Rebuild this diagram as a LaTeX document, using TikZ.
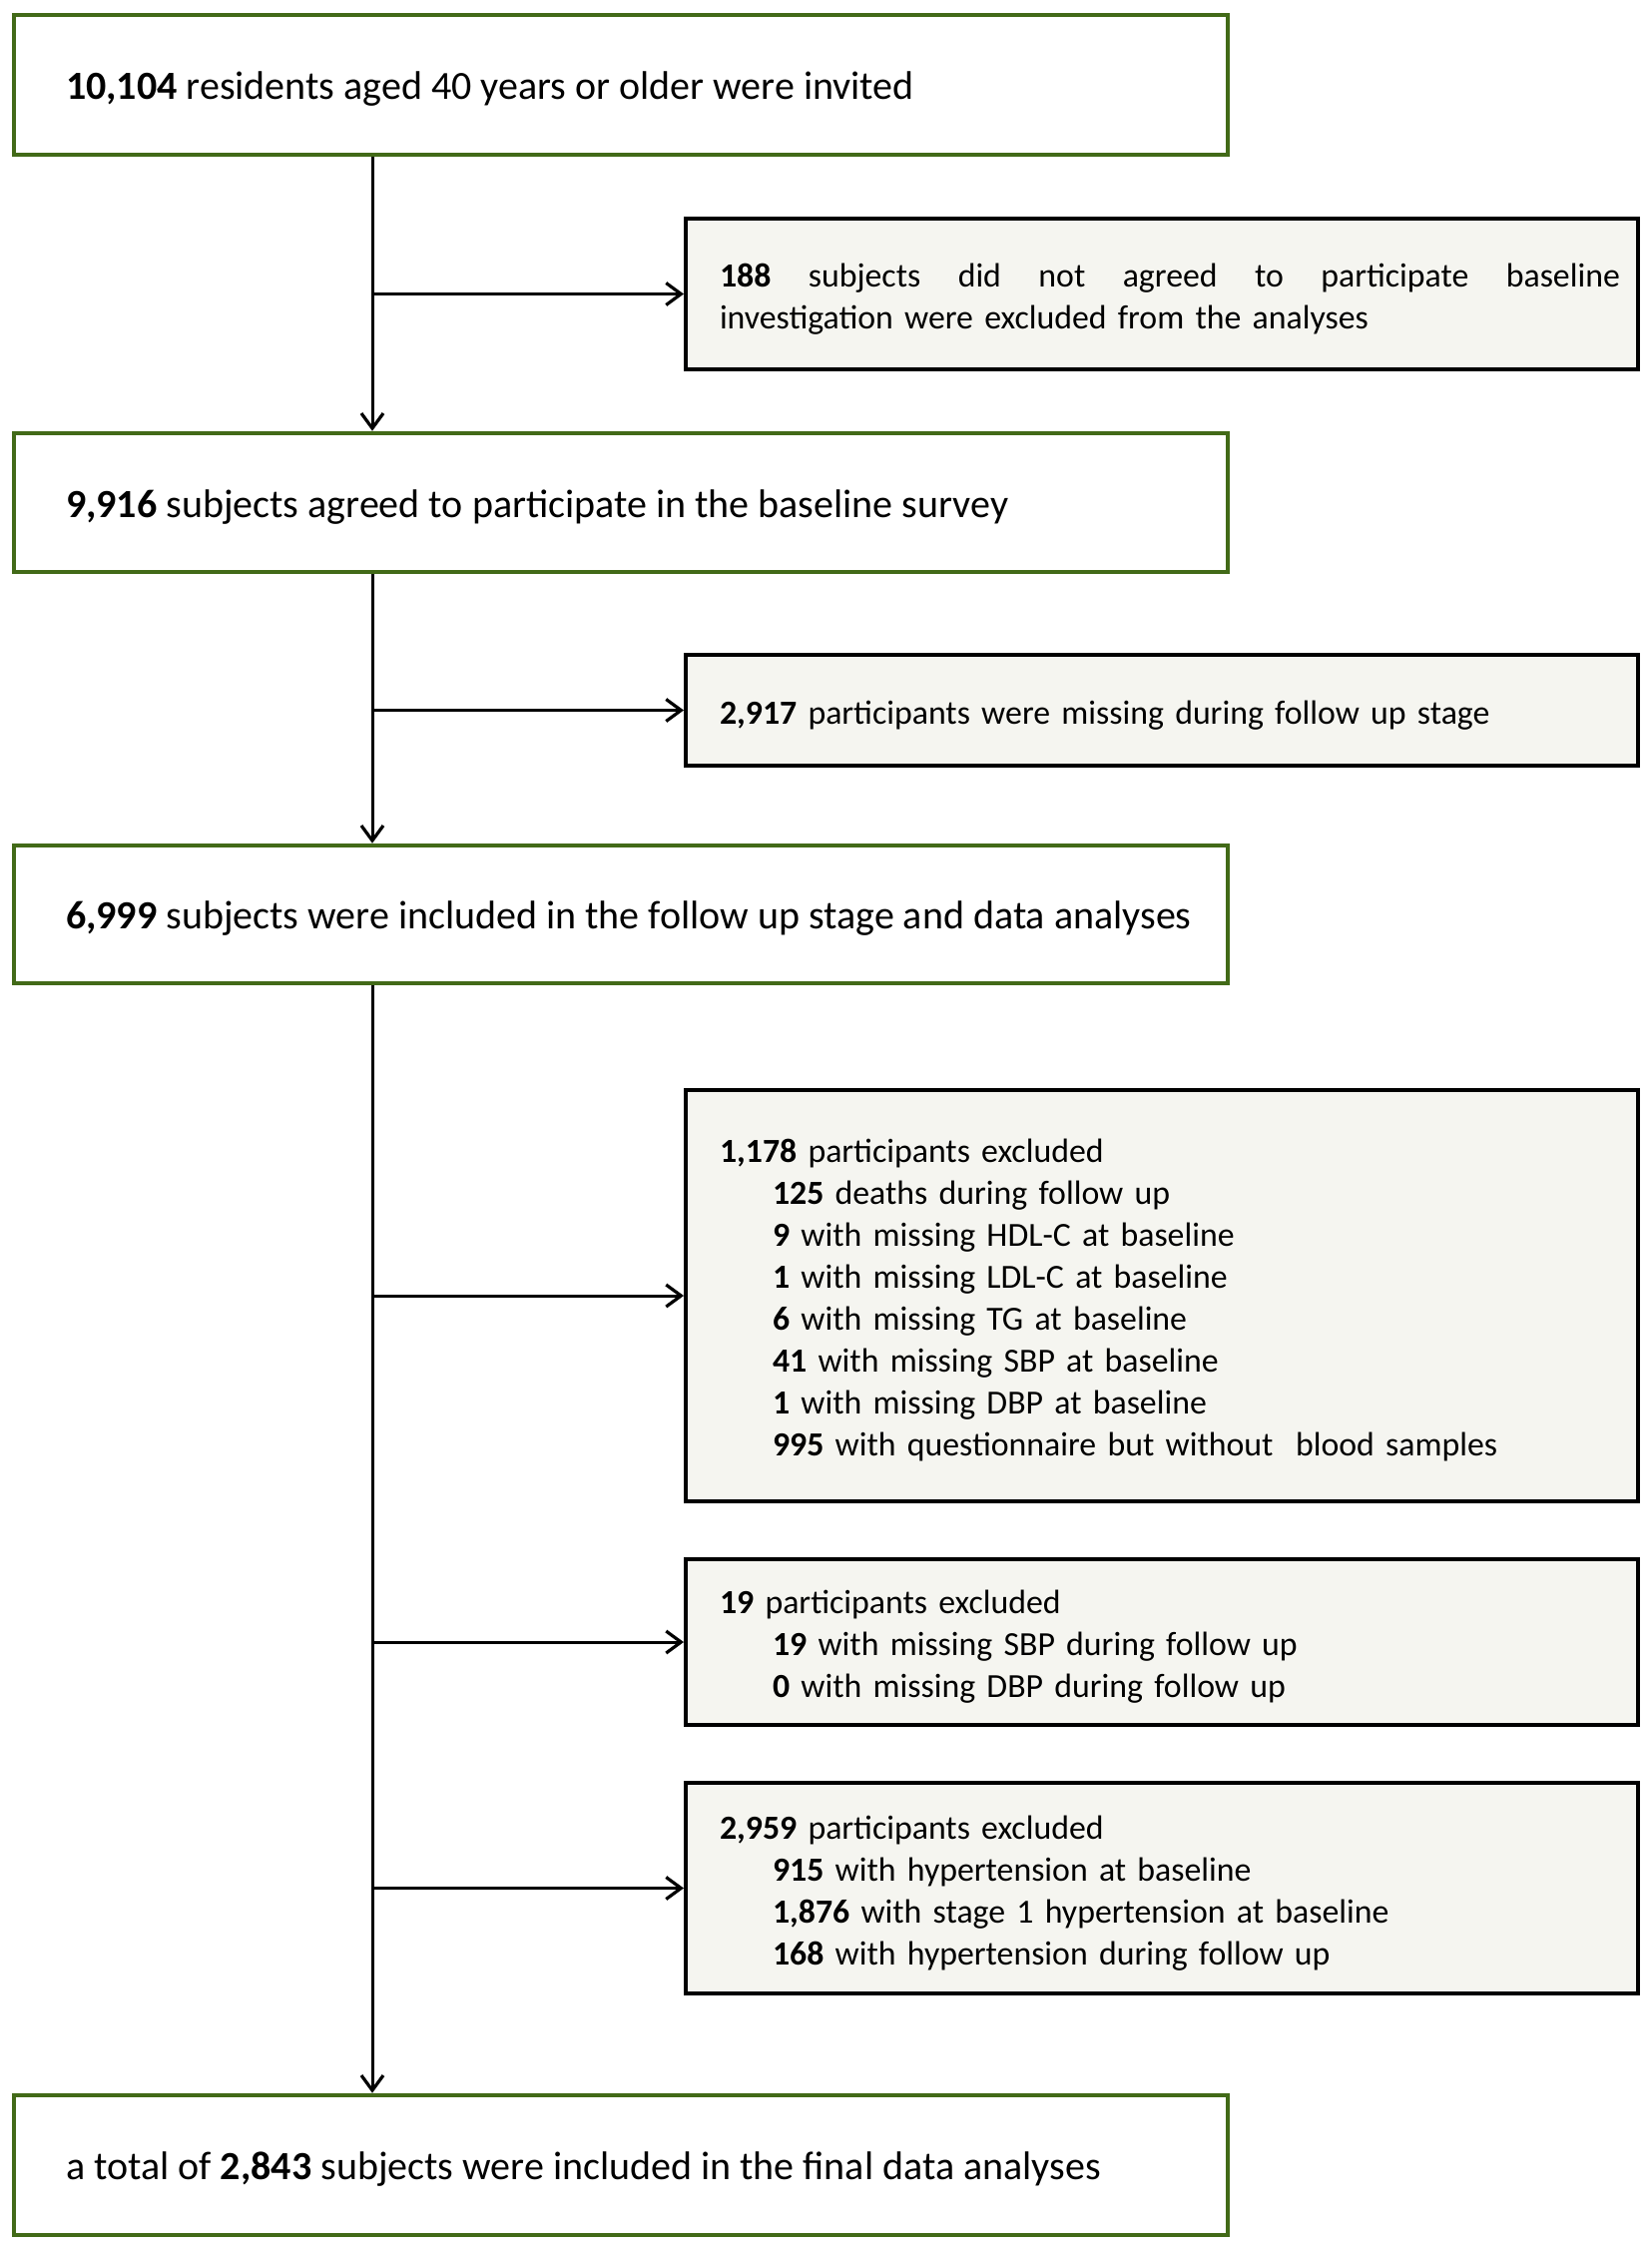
\documentclass[tikz,border=0pt]{standalone}
\usepackage{fontspec}
\setmainfont{Carlito}
\usetikzlibrary{arrows.meta}
\definecolor{boxgreen}{RGB}{66,106,24}
\definecolor{sidefill}{RGB}{245,245,240}
\begin{document}
\begin{tikzpicture}[x=0.5pt,y=-0.5pt,
  mainbox/.style={draw=boxgreen, line width=2.25pt, fill=white, rectangle,
    font=\fontsize{20pt}{21pt}\selectfont,
    minimum width=608pt, inner xsep=26pt, inner ysep=0pt},
  sidebox/.style={draw=black, line width=2pt, fill=sidefill, rectangle,
    font=\fontsize{16.9pt}{21pt}\selectfont,
    minimum width=477pt, text width=443pt, inner xsep=17pt, inner ysep=0pt, align=left},
  flow/.style={line width=1.5pt, -{Straight Barb[length=7.5pt,width=11pt,line width=1.6pt]}}
]
\useasboundingbox (0,0) rectangle (1655,2250);
\fill[white] (0,0) rectangle (1655,2250);
\newcommand{\ind}{\hspace*{26.5pt}}
\newcommand{\mline}[1]{\makebox[556pt][l]{\rule[-5pt]{0pt}{24.6pt}#1}}
\newcommand{\fst}{\rule{0pt}{16.5pt}}

\node[mainbox, minimum height=70pt] (g1) at (622,85)
  {\mline{\textbf{10,104} residents aged 40 years or older were invited}};
\node[mainbox, minimum height=69.5pt] (g2) at (622,503.5)
  {\mline{\textbf{9,916} subjects agreed to participate in the baseline survey}};
\node[mainbox, minimum height=69pt] (g3) at (622,916)
  {\mline{\textbf{6,999} subjects were included in the follow up stage and data analyses}};
\node[mainbox, minimum height=70pt] (g4) at (622,2169)
  {\mline{a total of \textbf{2,843} subjects were included in the final data analyses}};

\node[sidebox, minimum height=75.5pt] (s1) at (1164,294.5)
  {\makebox[451pt][l]{\fst\textbf{188}\hfill subjects\hfill did\hfill not\hfill agreed\hfill to\hfill participate\hfill baseline}\\
   \mbox{investigation were excluded from the analyses}};
\node[sidebox, minimum height=55.5pt] (s2) at (1164,711.5)
  {\mbox{\fst\textbf{2,917} participants were missing during follow up stage}};
\node[sidebox, minimum height=206pt] (s3) at (1164,1298)
  {\mbox{\fst\textbf{1,178} participants excluded}\\
   \mbox{\ind\textbf{125} deaths during follow up}\\
   \mbox{\ind\textbf{9} with missing HDL-C at baseline}\\
   \mbox{\ind\textbf{1} with missing LDL-C at baseline}\\
   \mbox{\ind\textbf{6} with missing TG at baseline}\\
   \mbox{\ind\textbf{41} with missing SBP at baseline}\\
   \mbox{\ind\textbf{1} with missing DBP at baseline}\\
   \mbox{\ind\textbf{995} with questionnaire but without\ \ blood samples}};
\node[sidebox, minimum height=83pt] (s4) at (1164,1645)
  {\mbox{\fst\textbf{19} participants excluded}\\
   \mbox{\ind\textbf{19} with missing SBP during follow up}\\
   \mbox{\ind\textbf{0} with missing DBP during follow up}};
\node[sidebox, minimum height=105.5pt] (s5) at (1164,1891.5)
  {\mbox{\fst\textbf{2,959} participants excluded}\\
   \mbox{\ind\textbf{915} with hypertension at baseline}\\
   \mbox{\ind\textbf{1,876} with stage 1 hypertension at baseline}\\
   \mbox{\ind\textbf{168} with hypertension during follow up}};

\coordinate (tx) at (373,0);

\draw[flow] (g1.south -| tx) -- (g2.north -| tx);
\draw[flow] (g2.south -| tx) -- (g3.north -| tx);
\draw[flow] (g3.south -| tx) -- (g4.north -| tx);

\draw[flow] (s1.west -| tx) -- (s1.west);
\draw[flow] (s2.west -| tx) -- (s2.west);
\draw[flow] (s3.west -| tx) -- (s3.west);
\draw[flow] (s4.west -| tx) -- (s4.west);
\draw[flow] (s5.west -| tx) -- (s5.west);
\end{tikzpicture}
\end{document}
